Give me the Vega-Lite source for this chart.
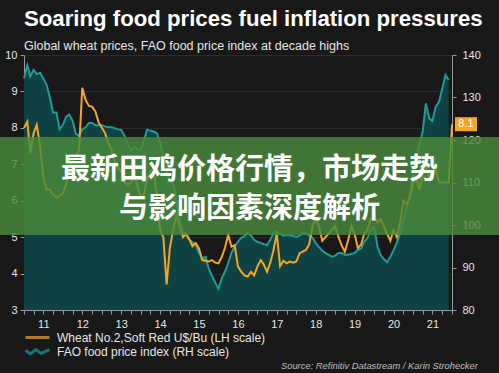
{
"$schema": "https://vega.github.io/schema/vega-lite/v6.json",
"width": 428, "height": 255,
"autosize": {"type": "none"},
"padding": {"left": 24, "top": 55, "right": 47, "bottom": 63},
"background": "#181818",
"config": {"font": "Liberation Sans", "view": {"stroke": null},
  "axis": {"domainColor": "#9a9a9a", "tickColor": "#9a9a9a", "labelColor": "#e6e6e6", "labelFontSize": 11, "tickSize": 4, "title": null, "labelOverlap": false}},
"title": {"text": "Soaring food prices fuel inflation pressures", "subtitle": "Global wheat prices, FAO food price index at decade highs", "anchor": "start", "frame": "group", "color": "#ffffff", "fontSize": 22.2, "fontWeight": "bold", "subtitleColor": "#e6e6e6", "subtitleFontSize": 12.5, "offset": -3, "subtitlePadding": 9},
"data": {"values": [
{"d":"2011-01-01","w":8.0,"f":134.5},{"d":"2011-02-01","w":8.17,"f":137.6},{"d":"2011-03-01","w":7.3,"f":135},{"d":"2011-04-01","w":7.85,"f":136.5},{"d":"2011-05-01","w":8.08,"f":135.5},{"d":"2011-06-01","w":7.5,"f":135.8},{"d":"2011-07-01","w":6.66,"f":134.5},{"d":"2011-08-01","w":6.3,"f":133},{"d":"2011-09-01","w":6.3,"f":130},{"d":"2011-10-01","w":6.16,"f":126.5},{"d":"2011-11-01","w":6.1,"f":126.5},{"d":"2011-12-01","w":6.12,"f":122.5},
{"d":"2012-01-01","w":6.2,"f":123.5},{"d":"2012-02-01","w":6.45,"f":125.5},{"d":"2012-03-01","w":6.9,"f":126},{"d":"2012-04-01","w":7.12,"f":124.5},{"d":"2012-05-01","w":7.2,"f":121.5},{"d":"2012-06-01","w":7.4,"f":121},{"d":"2012-07-01","w":9.1,"f":122.5},{"d":"2012-08-01","w":8.77,"f":123},{"d":"2012-09-01","w":8.6,"f":124},{"d":"2012-10-01","w":8.58,"f":124},{"d":"2012-11-01","w":8.45,"f":123.5},{"d":"2012-12-01","w":8.15,"f":123.5},
{"d":"2013-01-01","w":8.0,"f":123.5},{"d":"2013-02-01","w":7.85,"f":123.2},{"d":"2013-03-01","w":7.6,"f":123},{"d":"2013-04-01","w":7.39,"f":123},{"d":"2013-05-01","w":7.1,"f":122.8},{"d":"2013-06-01","w":6.9,"f":122.5},{"d":"2013-07-01","w":6.8,"f":122.4},{"d":"2013-08-01","w":6.5,"f":121},{"d":"2013-09-01","w":6.45,"f":119},{"d":"2013-10-01","w":6.5,"f":117.6},{"d":"2013-11-01","w":6.7,"f":118.4},{"d":"2013-12-01","w":6.4,"f":117.8},
{"d":"2014-01-01","w":6.1,"f":117.6},{"d":"2014-02-01","w":6.2,"f":120},{"d":"2014-03-01","w":6.6,"f":122.4},{"d":"2014-04-01","w":6.8,"f":122.2},{"d":"2014-05-01","w":6.9,"f":122},{"d":"2014-06-01","w":6.1,"f":121.6},{"d":"2014-07-01","w":5.2,"f":119.5},{"d":"2014-08-01","w":5.0,"f":116.5},{"d":"2014-09-01","w":3.7,"f":112.5},{"d":"2014-10-01","w":4.7,"f":110.5},{"d":"2014-11-01","w":5.2,"f":110},{"d":"2014-12-01","w":5.6,"f":106},
{"d":"2015-01-01","w":5.3,"f":101},{"d":"2015-02-01","w":5.0,"f":98.5},{"d":"2015-03-01","w":5.1,"f":97.6},{"d":"2015-04-01","w":4.95,"f":96.5},{"d":"2015-05-01","w":4.75,"f":96},{"d":"2015-06-01","w":4.84,"f":95.3},{"d":"2015-07-01","w":4.7,"f":93.5},{"d":"2015-08-01","w":4.37,"f":92.2},{"d":"2015-09-01","w":4.35,"f":92.5},{"d":"2015-10-01","w":4.33,"f":89.8},{"d":"2015-11-01","w":4.37,"f":88},{"d":"2015-12-01","w":4.3,"f":86.5},
{"d":"2016-01-01","w":4.28,"f":85},{"d":"2016-02-01","w":4.46,"f":87.5},{"d":"2016-03-01","w":4.7,"f":89},{"d":"2016-04-01","w":5.06,"f":91},{"d":"2016-05-01","w":4.74,"f":93.4},{"d":"2016-06-01","w":4.78,"f":95},{"d":"2016-07-01","w":4.2,"f":96},{"d":"2016-08-01","w":4.05,"f":97},{"d":"2016-09-01","w":3.95,"f":97.4},{"d":"2016-10-01","w":3.92,"f":98.1},{"d":"2016-11-01","w":4.05,"f":97.5},{"d":"2016-12-01","w":3.95,"f":96.5},
{"d":"2017-01-01","w":4.2,"f":96},{"d":"2017-02-01","w":4.37,"f":95.8},{"d":"2017-03-01","w":4.25,"f":95.5},{"d":"2017-04-01","w":4.05,"f":95.3},{"d":"2017-05-01","w":4.3,"f":96.5},{"d":"2017-06-01","w":4.65,"f":98.1},{"d":"2017-07-01","w":5.1,"f":98.5},{"d":"2017-08-01","w":4.2,"f":98},{"d":"2017-09-01","w":4.35,"f":97.5},{"d":"2017-10-01","w":4.28,"f":97.6},{"d":"2017-11-01","w":4.33,"f":97.6},{"d":"2017-12-01","w":4.3,"f":97.4},
{"d":"2018-01-01","w":4.33,"f":97.2},{"d":"2018-02-01","w":4.56,"f":97.5},{"d":"2018-03-01","w":4.6,"f":98},{"d":"2018-04-01","w":4.65,"f":98},{"d":"2018-05-01","w":4.8,"f":97.5},{"d":"2018-06-01","w":5.3,"f":97},{"d":"2018-07-01","w":5.5,"f":95.8},{"d":"2018-08-01","w":5.3,"f":94.8},{"d":"2018-09-01","w":4.9,"f":94},{"d":"2018-10-01","w":5.0,"f":93.4},{"d":"2018-11-01","w":5.1,"f":93},{"d":"2018-12-01","w":5.2,"f":92.5},
{"d":"2019-01-01","w":5.3,"f":92.8},{"d":"2019-02-01","w":5.0,"f":93.4},{"d":"2019-03-01","w":4.78,"f":93.4},{"d":"2019-04-01","w":4.6,"f":93},{"d":"2019-05-01","w":4.9,"f":93},{"d":"2019-06-01","w":5.3,"f":93.2},{"d":"2019-07-01","w":5.1,"f":93.4},{"d":"2019-08-01","w":4.7,"f":94.1},{"d":"2019-09-01","w":4.8,"f":94.5},{"d":"2019-10-01","w":5.1,"f":96.1},{"d":"2019-11-01","w":5.2,"f":97},{"d":"2019-12-01","w":5.5,"f":99},
{"d":"2020-01-01","w":5.6,"f":99.5},{"d":"2020-02-01","w":5.4,"f":95},{"d":"2020-03-01","w":5.5,"f":93},{"d":"2020-04-01","w":5.3,"f":92},{"d":"2020-05-01","w":5.1,"f":91.2},{"d":"2020-06-01","w":4.9,"f":92.5},{"d":"2020-07-01","w":5.2,"f":94},{"d":"2020-08-01","w":5.0,"f":95.8},{"d":"2020-09-01","w":5.4,"f":98.1},{"d":"2020-10-01","w":6.0,"f":101},{"d":"2020-11-01","w":5.9,"f":104},{"d":"2020-12-01","w":6.1,"f":107},
{"d":"2021-01-01","w":6.5,"f":112},{"d":"2021-02-01","w":6.6,"f":116},{"d":"2021-03-01","w":6.3,"f":119},{"d":"2021-04-01","w":6.7,"f":122},{"d":"2021-05-01","w":7.0,"f":128.6},{"d":"2021-06-01","w":6.6,"f":125.1},{"d":"2021-07-01","w":6.7,"f":124.5},{"d":"2021-08-01","w":6.9,"f":127.8},{"d":"2021-09-01","w":6.5,"f":129},{"d":"2021-10-01","w":6.5,"f":132},{"d":"2021-11-01","w":6.5,"f":135.3},{"d":"2021-12-01","w":6.5,"f":134.1},
{"d":"2022-01-01","w":8.1}
]},
"layer": [
 {
  "encoding": {
    "x": {"field": "d", "type": "temporal", "scale": {"type": "utc", "nice": false, "domain": [{"year": 2011, "month": 1, "date": 1, "utc": true}, {"year": 2022, "month": 1, "date": 1, "utc": true}]},
      "axis": {"tickCount": {"interval": "month", "step": 3}, "labelExpr": "utcmonth(datum.value) == 6 ? utcFormat(datum.value, '%y') : ''", "grid": false, "labelOverlap": false, "labelFlush": false, "labelBound": false, "labelPadding": 4}},
    "y": {"field": "f", "type": "quantitative", "scale": {"domain": [80, 140], "nice": false, "zero": false},
      "axis": {"orient": "right", "values": [80, 90, 100, 110, 120, 130, 140], "grid": false, "labelPadding": 6}}
  },
  "layer": [
    {"mark": {"type": "area", "color": "#0f4242"}, "encoding": {"y2": {"datum": 80}}},
    {"mark": {"type": "line", "color": "#1f9c9a", "strokeWidth": 2}}
  ]
 },
 {"mark": {"type": "line", "color": "#f5a623", "strokeWidth": 2},
  "encoding": {"x": {"field": "d", "type": "temporal"},
    "y": {"field": "w", "type": "quantitative", "scale": {"domain": [3, 10], "nice": false, "zero": false},
      "axis": {"orient": "left", "values": [3, 4, 5, 6, 7, 8, 9, 10], "grid": true, "gridColor": "#2a2a2a", "labelPadding": 3, "labelOverlap": false}}}},
 {
  "layer": [
    {"transform": [{"filter": "!isValid(datum.f)"}],
     "mark": {"type": "point", "shape": "M-1,-0.64L1,-0.64L1,0.64L-1,0.64Z", "size": 484, "filled": true, "color": "#f5a623", "opacity": 1, "xOffset": 14},
     "encoding": {"x": {"field": "d", "type": "temporal"}, "y": {"field": "w", "type": "quantitative", "scale": {"domain": [3, 10], "nice": false, "zero": false}, "axis": null}}},
    {"transform": [{"filter": "!isValid(datum.f)"}],
     "mark": {"type": "text", "color": "#ffffff", "fontSize": 11, "xOffset": 14, "align": "center", "baseline": "middle"},
     "encoding": {"x": {"field": "d", "type": "temporal"}, "y": {"field": "w", "type": "quantitative", "axis": null}, "text": {"field": "w", "type": "quantitative", "format": ".1f"}}},
    {"data": {"values": [{}]},
     "mark": {"type": "rect", "color": "#4a8a3c", "opacity": 0.82},
     "encoding": {"x": {"datum": {"year": 2010, "month": 5, "date": 1, "utc": true}}, "x2": {"datum": {"year": 2023, "month": 4, "date": 1, "utc": true}},
       "y": {"datum": 7.75, "axis": null}, "y2": {"datum": 5.06}}},
    {"data": {"values": [{}]},
     "mark": {"type": "text", "text": "最新田鸡价格行情，市场走势", "font": "Noto Sans CJK SC", "fontWeight": "bold", "fontSize": 29, "color": "#ffffff", "align": "center", "baseline": "middle"},
     "encoding": {"x": {"datum": {"year": 2016, "month": 10, "date": 19, "utc": true}}, "y": {"datum": 6.83, "axis": null}}},
    {"data": {"values": [{}]},
     "mark": {"type": "text", "text": "与影响因素深度解析", "font": "Noto Sans CJK SC", "fontWeight": "bold", "fontSize": 29, "color": "#ffffff", "align": "center", "baseline": "middle"},
     "encoding": {"x": {"datum": {"year": 2016, "month": 10, "date": 19, "utc": true}}, "y": {"datum": 5.76, "axis": null}}},
    {"data": {"values": [{}]},
     "mark": {"type": "text", "text": "Source: Refinitiv Datastream / Karin Strohecker", "fontStyle": "italic", "fontWeight": "normal", "fontSize": 9.4, "color": "#bdbdbd", "align": "right", "baseline": "middle"},
     "encoding": {"x": {"datum": {"year": 2022, "month": 9, "date": 1, "utc": true}}, "y": {"datum": 1.46, "axis": null}}},
    {"data": {"values": [{}]},
     "transform": [{"filter": "false"}],
     "mark": {"type": "point", "filled": false, "strokeWidth": 3},
     "encoding": {
       "color": {"field": "series", "type": "nominal", "scale": {"domain": ["w", "f"], "range": ["#f5a623", "#1f9c9a"]},
         "legend": {"orient": "none", "legendX": 6, "legendY": 275, "title": null, "direction": "vertical", "labelColor": "#e6e6e6", "labelFontSize": 12, "labelLimit": 400, "symbolSize": 144, "symbolStrokeWidth": 3, "rowPadding": -2, "labelOffset": 12, "padding": 0,
           "labelExpr": "datum.label == 'w' ? 'Wheat No.2,Soft Red U$/Bu (LH scale)' : 'FAO food price index (RH scale)'"}},
       "shape": {"field": "series", "type": "nominal", "scale": {"domain": ["w", "f"], "range": ["M-2,0L2,0", "M-2,-0.2L-1.2,0.4L-0.3,-0.3L0.6,0.3L2,-0.3"]},
         "legend": {"orient": "none", "legendX": 6, "legendY": 275, "title": null, "direction": "vertical", "labelColor": "#e6e6e6", "labelFontSize": 12, "labelLimit": 400, "symbolSize": 144, "symbolStrokeWidth": 3, "rowPadding": -2, "labelOffset": 12, "padding": 0,
           "labelExpr": "datum.label == 'w' ? 'Wheat No.2,Soft Red U$/Bu (LH scale)' : 'FAO food price index (RH scale)'"}}
     }}
  ]
 }
],
"resolve": {"scale": {"y": "independent"}}
}
